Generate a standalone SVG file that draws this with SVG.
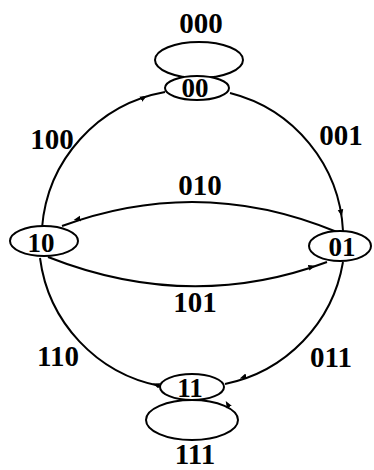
<svg xmlns="http://www.w3.org/2000/svg" width="374" height="470" viewBox="0 0 374 470">
<style>
.e{fill:none;stroke:#000;stroke-width:2}
.n{fill:#fff;stroke:#000;stroke-width:2}
.t{font-family:"Liberation Serif","Times New Roman",serif;font-weight:bold;font-size:29px;text-anchor:middle;fill:#000}
.nt{font-family:"Liberation Serif","Times New Roman",serif;font-weight:bold;font-size:27px;text-anchor:middle;fill:#000}
</style>
<defs>
<marker id="ah" viewBox="0 0 10 10" refX="5" refY="5" markerWidth="7" markerHeight="7" orient="auto" markerUnits="userSpaceOnUse">
<path d="M0,1 L10,5 L0,9 Z" fill="#000"/>
</marker>
</defs>
<rect width="374" height="470" fill="#fff"/>
<g id="connectors">
<ellipse class="e" cx="199" cy="60" rx="44" ry="18"/>
<ellipse class="e" cx="192" cy="420" rx="46" ry="20"/>
<path class="e" d="M42,228 A150,150 0 0 1 165,92"/>
<path class="e" d="M230,93 A150,150 0 0 1 343,231"/>
<path class="e" d="M40,258 A150,150 0 0 0 160,386"/>
<path class="e" d="M343,262 A150,150 0 0 1 225,384"/>
<path class="e" d="M337,232 Q200,175 62,226"/>
<path class="e" d="M48,257 Q190,313 327,262"/>
<path class="e" d="M0,0 L1,0" marker-end="url(#ah)" transform="translate(143,98) rotate(-30)"/>
<path class="e" d="M0,0 L1,0" marker-end="url(#ah)" transform="translate(341,212) rotate(78)"/>
<path class="e" d="M0,0 L1,0" marker-end="url(#ah)" transform="translate(78,219) rotate(168)"/>
<path class="e" d="M0,0 L1,0" marker-end="url(#ah)" transform="translate(311,267) rotate(-17)"/>
<path class="e" d="M0,0 L1,0" marker-end="url(#ah)" transform="translate(244,377) rotate(160)"/>
<path class="e" d="M0,0 L1,0" marker-end="url(#ah)" transform="translate(157,385) rotate(-160)"/>
<path class="e" d="M0,0 L1,0" marker-end="url(#ah)" transform="translate(228,405) rotate(-120)"/>
</g>
<g id="n00"><ellipse class="n" cx="197" cy="88" rx="32" ry="12"/><text class="nt" x="195" y="97">00</text></g>
<g id="n10"><ellipse class="n" cx="44" cy="241" rx="34" ry="15"/><text class="nt" x="41" y="252">10</text></g>
<g id="n01"><ellipse class="n" cx="340" cy="246" rx="31" ry="15"/><text class="nt" x="342" y="256">01</text></g>
<g id="n11"><ellipse class="n" cx="192" cy="387" rx="32" ry="13"/><text class="nt" x="190" y="397">11</text></g>
<g id="labels">
<text class="t" x="201" y="33">000</text>
<text class="t" x="52" y="149">100</text>
<text class="t" x="341" y="145">001</text>
<text class="t" x="200" y="195">010</text>
<text class="t" x="195" y="312">101</text>
<text class="t" x="58" y="366">110</text>
<text class="t" x="331" y="367">011</text>
<text class="t" x="195" y="464">111</text>
</g>
</svg>
